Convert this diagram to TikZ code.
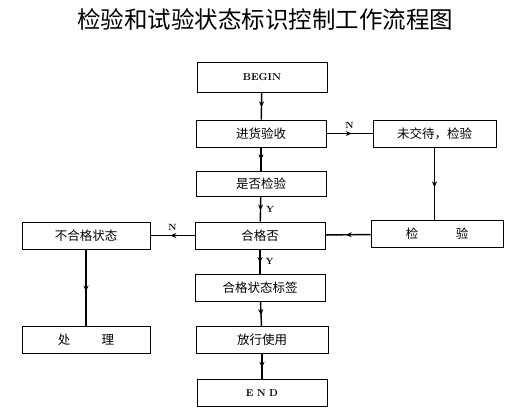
\documentclass[tikz,border=0pt]{standalone}
\usepackage{fontspec}
\newfontfamily\cjk[BoldFont={Noto Sans CJK SC Bold}]{Noto Sans CJK SC}
\usetikzlibrary{arrows.meta,decorations.markings}
\tikzset{
  box/.style={draw,line width=0.8pt,minimum width=130pt,minimum height=27pt,
    inner sep=0pt,font=\cjk\fontsize{12.5}{12.5}\selectfont},
  link/.style={line width=1.4pt,postaction={decorate},
    decoration={markings,mark=at position 0.55 with {\arrow{Stealth[length=6pt,width=5pt]}}}},
  tag/.style={font=\bfseries\fontsize{9}{9}\selectfont,inner sep=1pt}
}
\begin{document}
\begin{tikzpicture}[x=1pt,y=-1pt]
        \useasboundingbox (0,0) rectangle (524,417);
        \node[font=\cjk\fontsize{23.5}{23.5}\selectfont] (title) at (265,19) {检验和试验状态标识控制工作流程图};
        % main column
        \node[box,minimum height=30pt,font=\bfseries\fontsize{10}{10}\selectfont] (begin) at (262,77) {BEGIN};
        \node[box] (receive) at (261,133.5) {进货验收};
        \node[box,minimum width=123pt] (wait) at (434.5,133.5) {未交待，检验};
        \node[box,minimum height=25pt] (ifcheck) at (261,184) {是否检验};
        \node[box] (pass) at (260,235.5) {合格否};
        \node[box,minimum width=128pt] (fail) at (86,235.5) {不合格状态};
        \node[box,minimum width=132pt] (check) at (437,234) {检\hspace{3em}验};
        \node[box] (label) at (260,288) {合格状态标签};
        \node[box,minimum width=132pt] (release) at (262,340) {放行使用};
        \node[box,minimum width=128pt] (handle) at (86,340) {处\hspace{2.5em}理};
        \node[box,font=\bfseries\fontsize{10}{10}\selectfont] (end) at (262,393) {E\,\,N\,\,D};
        % connectors
        \draw[link] (begin) -- (receive);
        \draw[link] (receive) -- (wait) node[tag,midway,above=3pt] {N};
        \draw[link] (wait.south) -- (wait.south |- check.north);
        \draw[link] (receive) -- (ifcheck);
        \draw[link] (ifcheck) -- (pass) node[tag,midway,right=4pt] {Y};
        \draw[link] (check) -- (pass);
        \draw[link] (pass) -- (fail) node[tag,midway,above=3pt] {N};
        \draw[link] (fail.south) -- (fail.south |- handle.north);
        \draw[link] (pass) -- (label) node[tag,midway,right=4pt] {Y};
        \draw[link] (label) -- (release);
        \draw[link] (release) -- (end);
\end{tikzpicture}
\end{document}
